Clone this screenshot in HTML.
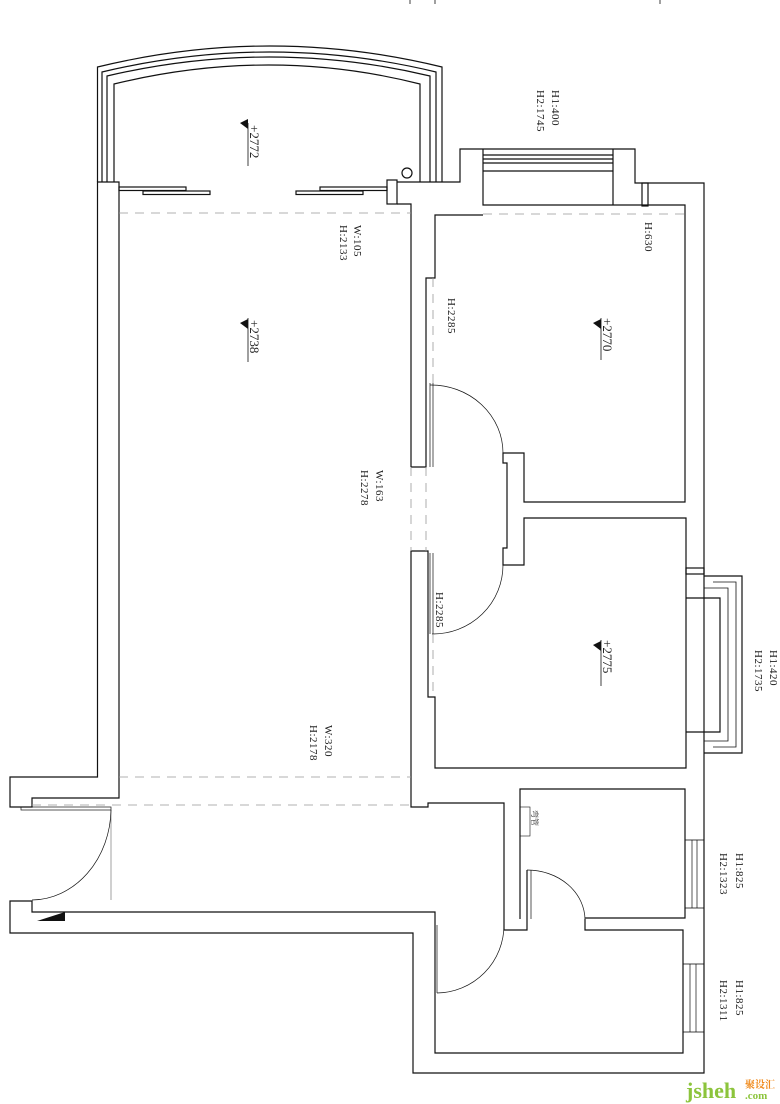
<!DOCTYPE html>
<html><head><meta charset="utf-8"><style>
html,body{margin:0;padding:0;background:#fff;width:780px;height:1104px;overflow:hidden}
svg{display:block}
text{font-family:"Liberation Serif","Noto Serif CJK SC",serif;fill:#222}
</style></head><body>
<svg width="780" height="1104" viewBox="0 0 780 1104" xmlns="http://www.w3.org/2000/svg">
<g fill="none" stroke="#111" stroke-width="1.2">
<!-- balcony arcs -->
<path d="M97.5,182 L97.5,67 Q270,25 442,67 L442,182"/>
<path d="M102,182 L102,72 Q270,32 436,72 L436,182"/>
<path d="M107,182 L107,76 Q270,38 430,76 L430,182"/>
<path d="M114,182 L114,84 Q270,46 420,84 L420,182"/>
<!-- left living wall -->
<path d="M97.5,182 L97.5,777 L10,777 L10,807 L32,807 L32,798 L119,798 L119,182 Z"/>
<!-- top wall segment -->
<path d="M397,182 L460,182 L460,149 L635,149 L635,183 L704,183 L704,1073 L413,1073 L413,933 L10,933 L10,901 L32,901 L32,912 L435,912 L435,1053 L683,1053 L683,930 L585,930 L585,919"/>
<path d="M483,149 L483,205 L685,205 L685,502 L524,502 L524,453 L503,453 L503,463 L507,463 L507,548 L503,548 L503,565 L524,565 L524,518 L686,518 L686,768 L435,768 L435,697 L428,697 L428,551 L411,551 L411,807 L428,807 L428,803 L504,803 L504,930 L527,930 L527,919"/>
<path d="M411,467 L426,467 L426,278 L435,278 L435,215 L483,215"/>
<path d="M397,204 L411,204 L411,467"/>
<!-- window top -->
<path d="M613,149 L613,205 M483,155 L613,155 M483,159 L613,159 M483,163 L613,163 M483,171 L613,171"/>
<rect x="642" y="183" width="6" height="23"/>
<!-- column and circle -->
<rect x="387" y="180" width="10" height="24"/>
<circle cx="407" cy="173" r="5"/>
<!-- sliding doors -->
<rect x="119" y="187" width="67" height="3.5"/>
<rect x="143" y="191" width="67" height="3.5"/>
<rect x="320" y="187" width="67" height="3.5"/>
<rect x="296" y="191" width="67" height="3.5"/>
<!-- bay window -->
<path d="M686,598 L720,598 L720,732 L686,732"/>
<path d="M704,576 L742,576 L742,753 L704,753"/>
<path d="M713,582 L736,582 L736,747 L713,747" stroke-width="0.8"/>
<path d="M704,588 L728,588 L728,741 L704,741" stroke-width="0.8"/>
<rect x="686" y="568" width="18" height="6"/>
<!-- bathroom -->
<path d="M520,919 L520,789 L685,789 L685,918 L585,918"/>
<path d="M527,919 L527,870"/>
<rect x="685" y="840" width="19" height="68" stroke-width="0.8"/>
<path d="M692,840 L692,908 M697,840 L697,908" stroke-width="0.7"/>
<rect x="683" y="964" width="21" height="68" stroke-width="0.8"/>
<path d="M690,964 L690,1032 M696,964 L696,1032" stroke-width="0.7"/>
<rect x="520" y="807" width="10" height="29" stroke-width="0.6"/>
<!-- doors -->
<g stroke-width="0.7">
<path d="M430,385 A72,68 0 0 1 503,453"/>
<path d="M430,383 L430,467 M433,383 L433,467"/>
<path d="M503,565 A70,69 0 0 1 432,634"/>
<path d="M430,553 L430,634 M433,553 L433,634"/>
<path d="M111,810 A80,92 0 0 1 32,900"/>
<rect x="21" y="807" width="90" height="3"/>
<path d="M111,810 L111,900" stroke-width="0.4"/>
<path d="M527,870 A58,50 0 0 1 585,920"/>
<path d="M504,925 A68,68 0 0 1 437,993"/>
<path d="M437,925 L437,993 M531,870 L531,919"/>
</g>
<!-- dashed lines -->
<g stroke="#999" stroke-dasharray="9,7" stroke-width="0.8">
<path d="M119,213 L411,213"/>
<path d="M483,214 L685,214"/>
<path d="M119,777 L411,777"/>
<path d="M32,805 L411,805"/>
<path d="M411,467 L411,551 M426,467 L426,551"/>
<path d="M433,278 L433,383" />
<path d="M433,634 L433,697" />
</g>
<!-- top ticks -->
<path d="M410,0 L410,4 M435,0 L435,4 M660,0 L660,4" stroke-width="0.8"/>
<!-- underlines of elevations -->
<path d="M248,123 L248,166 M248,318 L248,362 M601,318 L601,360 M601,640 L601,686" stroke-width="0.8"/>
</g>
<polygon points="37,921 65,912 65,921" fill="#111"/>
<polygon points="240,123 248,119 248,129" fill="#111"/>
<polygon points="240,323 248,319 248,329" fill="#111"/>
<polygon points="593,323 601,319 601,329" fill="#111"/>
<polygon points="593,645 601,641 601,651" fill="#111"/>
<g font-size="13">
<text transform="translate(250,125) rotate(90)">+2772</text>
<text transform="translate(250,320) rotate(90)">+2738</text>
<text transform="translate(603,318) rotate(90)">+2770</text>
<text transform="translate(603,640) rotate(90)">+2775</text>
</g>
<g font-size="11" letter-spacing="0.5">
<text transform="translate(552,90) rotate(90)">H1:400</text>
<text transform="translate(537,90) rotate(90)">H2:1745</text>
<text transform="translate(354,225) rotate(90)">W:105</text>
<text transform="translate(340,225) rotate(90)">H:2133</text>
<text transform="translate(645,222) rotate(90)">H:630</text>
<text transform="translate(448,298) rotate(90)">H:2285</text>
<text transform="translate(436,592) rotate(90)">H:2285</text>
<text transform="translate(376,470) rotate(90)">W:163</text>
<text transform="translate(361,470) rotate(90)">H:2278</text>
<text transform="translate(325,725) rotate(90)">W:320</text>
<text transform="translate(310,725) rotate(90)">H:2178</text>
<text transform="translate(770,650) rotate(90)">H1:420</text>
<text transform="translate(755,650) rotate(90)">H2:1735</text>
<text transform="translate(736,853) rotate(90)">H1:825</text>
<text transform="translate(720,853) rotate(90)">H2:1323</text>
<text transform="translate(736,980) rotate(90)">H1:825</text>
<text transform="translate(720,980) rotate(90)">H2:1311</text>
</g>
<text transform="translate(532,810) rotate(90)" font-size="8">弯管</text>
<text x="686" y="1098" font-family="Liberation Sans,sans-serif" font-weight="bold" font-size="22" style="fill:#8cc43c">jsheh</text>
<text x="745" y="1088" font-family="Liberation Sans,'Noto Sans CJK SC',sans-serif" font-weight="bold" font-size="10" style="fill:#f08a1c">聚设汇</text>
<text x="745" y="1099" font-family="Liberation Sans,sans-serif" font-weight="bold" font-size="11" style="fill:#8cc43c">.com</text>
</svg>
</body></html>
